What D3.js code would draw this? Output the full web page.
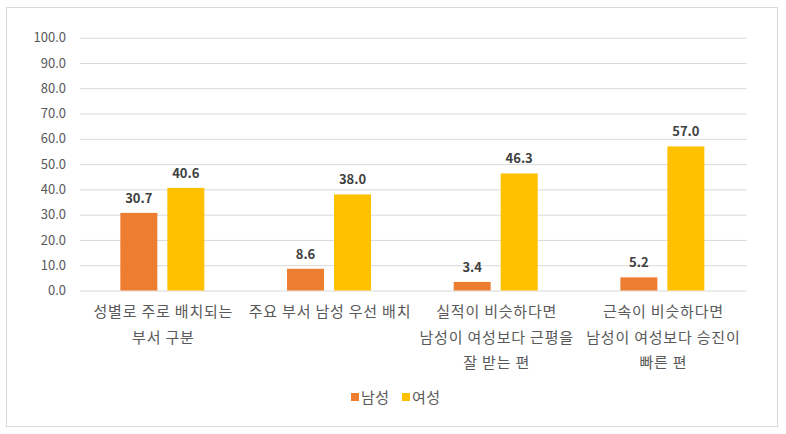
<!DOCTYPE html>
<html><head><meta charset="utf-8">
<script src="https://cdn.jsdelivr.net/npm/d3@7"></script>
<style>body{margin:0;background:#fff}svg{display:block}</style>
</head><body>
<svg id="chart" width="786" height="434"></svg>
<script>
const categories = [
  ["성별로 주로 배치되는", "부서 구분"],
  ["주요 부서 남성 우선 배치"],
  ["실적이 비슷하다면", "남성이 여성보다 근평을", "잘 받는 편"],
  ["근속이 비슷하다면", "남성이 여성보다 승진이", "빠른 편"]
];
const seriesNames = ["남성", "여성"];
const maleValues = [30.7, 8.6, 3.4, 5.2];
const femaleValues = [40.6, 38.0, 46.3, 57.0];
const yTicks = [0, 10, 20, 30, 40, 50, 60, 70, 80, 90, 100];
const colors = ["#ED7D31", "#FFC000"];

(function () {
const svg = d3.select("#chart");
const font = "'Noto Sans CJK KR', 'Malgun Gothic', sans-serif";
svg.append("rect").attr("x", 6.5).attr("y", 7.5).attr("width", 771).attr("height", 419)
  .attr("fill", "#fff").attr("stroke", "#d9d9d9");

const pLeft = 80, pRight = 746.7, pTop = 37.7, pBottom = 290.5;
const y = d3.scaleLinear().domain([0, 100]).range([pBottom, pTop]);
const x0 = d3.scaleBand().domain(d3.range(categories.length)).range([pLeft, pRight]);
const x1 = d3.scaleBand().domain([0, 1]).range([x0.bandwidth()/2 - 43, x0.bandwidth()/2 + 41]).paddingInner(0.213);

const yAxis = d3.axisLeft(y).tickValues(yTicks).tickSize(-(pRight - pLeft)).tickFormat(d3.format(".1f"));
const ga = svg.append("g").attr("transform", `translate(${pLeft},0)`).call(yAxis);
ga.select(".domain").remove();
ga.selectAll(".tick line").attr("stroke", "#d9d9d9").attr("stroke-width", 1);
ga.selectAll(".tick text").attr("x", -14).attr("fill", "#595959")
  .style("font-family", font).style("font-size", "13px");

const data = categories.map((c, i) => ({i, vals: [maleValues[i], femaleValues[i]]}));
const groups = svg.append("g").selectAll("g").data(data).join("g")
  .attr("transform", d => `translate(${x0(d.i)},0)`);
groups.selectAll("rect").data(d => d.vals.map((v, k) => ({v, k}))).join("rect")
  .attr("x", d => x1(d.k)).attr("width", x1.bandwidth())
  .attr("y", d => y(d.v)).attr("height", d => y(0) - y(d.v))
  .attr("fill", d => colors[d.k]);
groups.selectAll("text.val").data(d => d.vals.map((v, k) => ({v, k}))).join("text")
  .attr("class", "val")
  .attr("x", d => x1(d.k) + x1.bandwidth()/2).attr("y", d => y(d.v) - 10)
  .attr("text-anchor", "middle").attr("fill", "#404040")
  .style("font-family", font).style("font-size", "13px").style("font-weight", "bold")
  .text(d => d3.format(".1f")(d.v));

const xl = svg.append("g");
categories.forEach((lines, i) => {
  lines.forEach((ln, j) => {
    xl.append("text").attr("x", x0(i) + x0.bandwidth()/2).attr("y", 317 + j * 25.5)
      .attr("text-anchor", "middle").attr("fill", "#595959")
      .style("font-family", font).style("font-size", "15px").style("letter-spacing", "0.8px").text(ln);
  });
});

const lg = svg.append("g");
const legX = [351, 402];
seriesNames.forEach((n, k) => {
  lg.append("rect").attr("x", legX[k]).attr("y", 393).attr("width", 8).attr("height", 8).attr("fill", colors[k]);
  lg.append("text").attr("x", legX[k] + 10).attr("y", 402.5).attr("fill", "#595959")
    .style("font-family", font).style("font-size", "15px").style("letter-spacing", "0.5px").text(n);
});
})();
</script>
</body></html>
